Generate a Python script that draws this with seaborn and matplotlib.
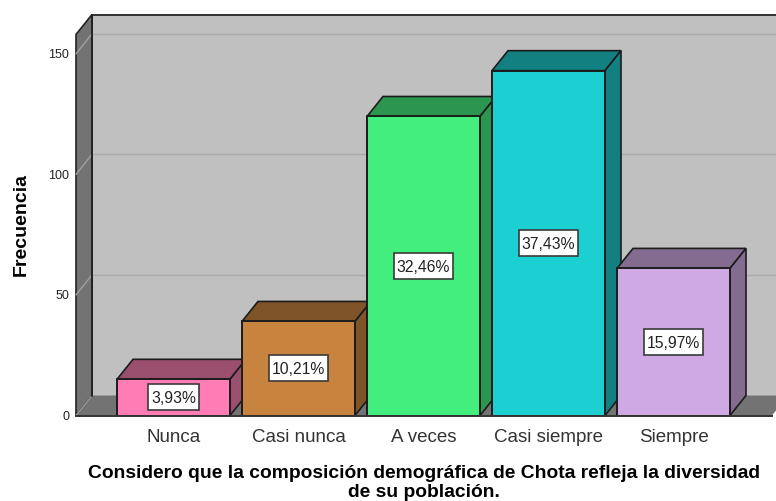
import matplotlib
matplotlib.use("Agg")
import matplotlib.pyplot as plt
import seaborn as sns
from matplotlib.patches import Polygon, Rectangle

categorias = ['Nunca', 'Casi nunca', 'A veces', 'Casi siempre', 'Siempre']
frecuencia = [15, 39, 124, 143, 61]
porcentajes = ['3,93%', '10,21%', '32,46%', '37,43%', '15,97%']
y_ticks = [0, 50, 100, 150]
color_frente = ['#FF7DB4', '#C8843F', '#42EE7E', '#1CCFD0', '#CFA9E3']
color_lado = ['#9B4F6F', '#7F5428', '#2A9650', '#128080', '#836C90']

sns.set_theme(style='white')
plt.rcParams['font.family'] = ['Liberation Sans', 'DejaVu Sans']

W, H = 776, 501
fig = plt.figure(figsize=(W / 100, H / 100), dpi=100)
ax = fig.add_axes([76 / W, 1 - 415.5 / H, 696 / W, 381 / H])
ax.patch.set_visible(False)

sns.barplot(x=categorias, y=frecuencia, hue=categorias, palette=color_frente, width=0.904,
            saturation=1, legend=False, edgecolor='#1c1c1c', linewidth=1.4, ax=ax)

x0, x1 = -0.78, 4.788
y1 = 158
ax.set_xlim(x0, x1)
ax.set_ylim(0, y1)

# profundidad del efecto 3D
dx = 16 / 125
dy = 20 / (381 / y1)

# paredes y suelo
pared = '#737373'
ax.add_patch(Rectangle((x0 + dx, dy), x1 - x0, y1, fc='#C0C0C0', ec='none', clip_on=False, zorder=0.5))
ax.add_patch(Polygon([(x0, 0), (x0 + dx, dy), (x0 + dx, y1 + dy), (x0, y1)], fc=pared,
                     ec='#222222', lw=1.2, clip_on=False, zorder=0.6))
ax.add_patch(Polygon([(x0, 0), (x0 + dx, dy), (x1 + dx, dy), (x1, 0)], fc=pared,
                     ec='none', clip_on=False, zorder=0.6))
ax.plot([x0 + dx, x1 + dx], [y1 + dy, y1 + dy], color='#333333', lw=1.4, clip_on=False, zorder=0.7)
ax.plot([x0 + dx, x0 + dx], [dy, y1 + dy], color='#222222', lw=1.4, clip_on=False, zorder=0.9)
ax.plot([x0, x0 + dx], [0, dy], color='#999999', lw=1, clip_on=False, zorder=0.7)
for t in y_ticks[1:]:
    ax.plot([x0 + dx, x1 + dx], [t + dy, t + dy], color='#ABABAB', lw=1, clip_on=False, zorder=0.7)
    ax.plot([x0, x0 + dx], [t, t + dy], color='#A0A0A0', lw=1, clip_on=False, zorder=0.7)

# caras superior y lateral de cada barra
etiquetas = []
for i, bar in enumerate(list(ax.patches)[:len(frecuencia)]):
    a = bar.get_x()
    b = a + bar.get_width()
    h = bar.get_height()
    z = 2 + i
    ax.add_patch(Polygon([(a, h), (a + dx, h + dy), (b + dx, h + dy), (b, h)], fc=color_lado[i],
                         ec='#1c1c1c', lw=1.2, clip_on=False, zorder=z))
    ax.add_patch(Polygon([(b, 0), (b + dx, dy), (b + dx, h + dy), (b, h)], fc=color_lado[i],
                         ec='#1c1c1c', lw=1.2, clip_on=False, zorder=z))
    bar.set_zorder(z + 0.5)
    t = ax.text(a + bar.get_width() / 2, h / 2, porcentajes[i], ha='center', va='center_baseline', fontsize=11.3,
                color='#222222', zorder=z + 0.7)
    etiquetas.append((t, z))

# caja blanca de cada etiqueta: 3 px a los lados y 26 px de alto
fig.canvas.draw()
inv = ax.transData.inverted()
for t, z in etiquetas:
    ext = t.get_window_extent()
    cy = t.get_position()[1]
    (bx0, _), (bx1, _) = inv.transform([(ext.x0 - 3, 0), (ext.x1 + 3, 0)])
    alto = 26 / (381 / y1)
    ax.add_patch(Rectangle((bx0, cy - alto / 2), bx1 - bx0, alto, fc='white', ec='#3a3a3a', lw=1.2,
                           zorder=z + 0.6))

for s in ['top', 'right', 'left']:
    ax.spines[s].set_visible(False)
ax.spines['bottom'].set_color('#333333')
ax.spines['bottom'].set_linewidth(1.4)
ax.spines['bottom'].set_zorder(20)

ax.set_yticks(y_ticks)
ax.tick_params(axis='y', length=0, pad=5, labelsize=9, labelcolor='#222222')
ax.tick_params(axis='x', length=0, pad=10, labelsize=13.5, labelcolor='#333333')
ax.set_ylabel('Frecuencia', fontsize=14, fontweight='bold', color='black')
ax.yaxis.set_label_coords((29.5 - 76) / 696, (415.5 - 225) / 381)
ax.set_xlabel('Considero que la composición demográfica de Chota refleja la diversidad\nde su población.',
              fontsize=13.9, fontweight='bold', color='black', linespacing=1.12)
ax.xaxis.set_label_coords((423.5 - 76) / 696, (415.5 - 465.5) / 381)

fig.savefig('out.png', dpi=100)
